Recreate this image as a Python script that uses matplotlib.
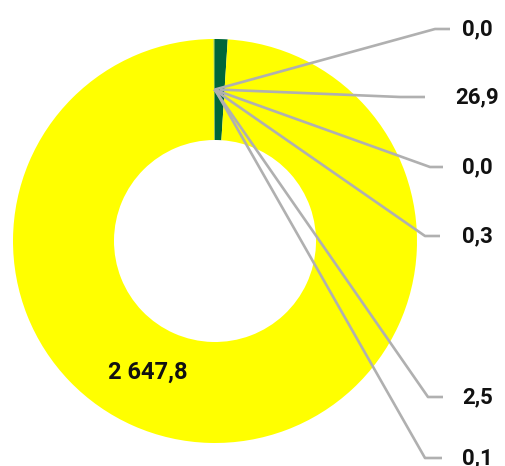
import matplotlib
matplotlib.use("Agg")
import matplotlib.pyplot as plt
import numpy as np

plt.rcParams["font.family"] = ["Roboto", "DejaVu Sans"]

# slice values, clockwise from 12 o'clock
values = [0.0, 26.9, 2647.8, 0.0, 0.3, 2.5, 0.1]
colors = ["#7FA23A", "#00663A", "#FFFF00", "#3C8C3C", "#9DBF2E", "#4FA04A", "#C8D400"]
inner_label = 2
# label rows on the right (pixel y), one per outer-labelled slice, in slice order
label_rows = [29, 97, 167, 236, 397, 458]
elbow_x = [435, 400, 430, 425, 428, 425]
line_end_x = [450, 425, 443, 440, 443, 442]
text_x = [462, 455, 462, 462, 462, 462]

W, H = 506, 466
CX, CY, R = 215, 241, 202


def to_data(px, py):
    return (px - CX) / R, (CY - py) / R


def fmt(v):
    return f"{v:,.1f}".replace(",", " ").replace(".", ",")


fig = plt.figure(figsize=(W / 100, H / 100), dpi=100)
ax = fig.add_axes([0, 0, 1, 1])

wedges, _ = ax.pie(values, colors=colors, startangle=90, counterclock=False,
                   radius=1.0, wedgeprops=dict(width=0.5, linewidth=0))

# pie resets the limits, so set them afterwards
x0, y1 = to_data(0, 0)
x1, y0 = to_data(W, H)
ax.set_aspect("auto")
ax.set_xlim(x0, x1)
ax.set_ylim(y0, y1)
ax.axis("off")

line_c = "#B0B0B0"
outer = [i for i in range(len(values)) if i != inner_label]
for k, i in enumerate(outer):
    w = wedges[i]
    ang = np.deg2rad((w.theta1 + w.theta2) / 2)
    sx, sy = 0.75 * np.cos(ang), 0.75 * np.sin(ang)
    ex, ey = to_data(elbow_x[k], label_rows[k])
    hx, _ = to_data(line_end_x[k], label_rows[k])
    ax.plot([sx, ex, hx], [sy, ey, ey], color=line_c, lw=1.9, solid_capstyle="butt")
    tx, _ = to_data(text_x[k], label_rows[k])
    ax.text(tx, ey, fmt(values[i]), ha="left", va="center", fontsize=16,
            fontweight="bold", color="#111111")

ix, iy = to_data(148, 372)
ax.text(ix, iy, fmt(values[inner_label]), ha="center", va="center", fontsize=17,
        fontweight="bold", color="#111111")

fig.savefig("out.png", dpi=100)
